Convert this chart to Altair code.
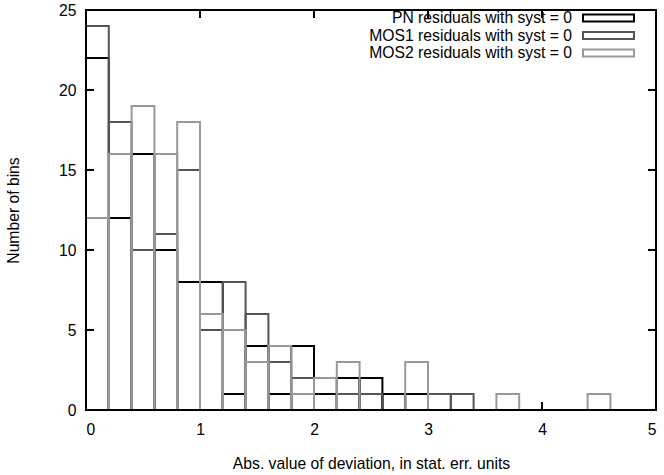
import altair as alt
import pandas as pd

# Histogram of |deviation| in stat. err. units, bin width 0.2
bin_left = [0.0, 0.2, 0.4, 0.6, 0.8, 1.0, 1.2, 1.4, 1.6, 1.8, 2.0, 2.2,
            2.4, 2.6, 2.8, 3.0, 3.2, 3.4, 3.6, 3.8, 4.0, 4.2, 4.4]
bin_width = 0.2
pn   = [22, 12, 16, 10, 8, 8, 1, 4, 1, 4, 1, 2, 2, 1, 1, 0, 0, 0, 0, 0, 0, 0, 0]
mos1 = [24, 18, 10, 11, 15, 5, 8, 6, 3, 2, 0, 1, 1, 0, 0, 1, 1, 0, 0, 0, 0, 0, 0]
mos2 = [12, 16, 19, 16, 18, 6, 5, 3, 4, 1, 2, 3, 0, 0, 3, 0, 0, 0, 1, 0, 0, 0, 1]

series_names = ["PN residuals with syst = 0",
                "MOS1 residuals with syst = 0",
                "MOS2 residuals with syst = 0"]
series_colors = ["#000000", "#555555", "#999999"]
x_ticks = [0, 1, 2, 3, 4, 5]
y_ticks = [0, 5, 10, 15, 20, 25]

W, H = 570, 400
FONT = "Liberation Sans"
FS = 15.7

rows = []
for order, (name, vals) in enumerate(zip(series_names, [pn, mos1, mos2])):
    for left, c in zip(bin_left, vals):
        if c > 0:
            rows.append({"series": name, "order": order, "x0": left,
                         "x1": round(left + bin_width, 2), "count": c, "zero": 0})
df = pd.DataFrame(rows)

xscale = alt.Scale(domain=[0, 5], nice=False, zero=False)
yscale = alt.Scale(domain=[0, 25], nice=False)

bars = alt.Chart(df).mark_rect(fillOpacity=0, strokeWidth=2).encode(
    x=alt.X("x0:Q", scale=xscale,
            axis=alt.Axis(values=x_ticks, format="d", title="Abs. value of deviation, in stat. err. units",
                          domain=False, ticks=False, tickSize=0, grid=False,
                          labelPadding=12, titlePadding=20)),
    x2="x1:Q",
    y=alt.Y("count:Q", scale=yscale,
            axis=alt.Axis(values=y_ticks, format="d", title="Number of bins",
                          domain=False, ticks=False, tickSize=0, grid=False,
                          labelPadding=10, titlePadding=37)),
    y2="zero:Q",
    stroke=alt.Stroke("series:N", scale=alt.Scale(domain=series_names, range=series_colors), legend=None),
    order="order:Q",
)

xt = pd.DataFrame({"v": x_ticks})
yt = pd.DataFrame({"v": y_ticks})
tick_style = dict(color="black", strokeWidth=2)
xb = alt.Chart(xt).mark_rule(**tick_style).encode(x=alt.X("v:Q", scale=xscale), y=alt.value(H), y2=alt.value(H - 8))
xtp = alt.Chart(xt).mark_rule(**tick_style).encode(x=alt.X("v:Q", scale=xscale), y=alt.value(0), y2=alt.value(8))
yl = alt.Chart(yt).mark_rule(**tick_style).encode(y=alt.Y("v:Q", scale=yscale), x=alt.value(0), x2=alt.value(8))
yr = alt.Chart(yt).mark_rule(**tick_style).encode(y=alt.Y("v:Q", scale=yscale), x=alt.value(W - 8), x2=alt.value(W))

frame = alt.Chart(pd.DataFrame({"a": [0]})).mark_rect(fillOpacity=0, stroke="black", strokeWidth=2).encode(
    x=alt.value(0), x2=alt.value(W), y=alt.value(0), y2=alt.value(H))

legend_layers = []
row_y = [8, 25.5, 43]
for name, col, ry in zip(series_names, series_colors, row_y):
    t = alt.Chart(pd.DataFrame({"a": [0]})).mark_text(
        align="right", baseline="middle", fontSize=FS, font=FONT, color="black", text=name
    ).encode(x=alt.value(486), y=alt.value(ry))
    b = alt.Chart(pd.DataFrame({"a": [0]})).mark_rect(
        fillOpacity=0, stroke=col, strokeWidth=2
    ).encode(x=alt.value(497), x2=alt.value(548), y=alt.value(ry - 3.5), y2=alt.value(ry + 3.5))
    legend_layers += [t, b]

chart = alt.layer(xb, xtp, yl, yr, bars, frame, *legend_layers).properties(
    width=W, height=H,
    autosize=alt.AutoSizeParams(type="none"),
    padding={"left": 86, "top": 10, "right": 8, "bottom": 65},
).configure_view(stroke=None).configure_axis(
    labelFont=FONT, titleFont=FONT, labelFontSize=FS, titleFontSize=FS,
    labelColor="black", titleColor="black", titleFontWeight="normal",
)

chart.save("out.html", embed_options={"renderer": "svg", "actions": False})
